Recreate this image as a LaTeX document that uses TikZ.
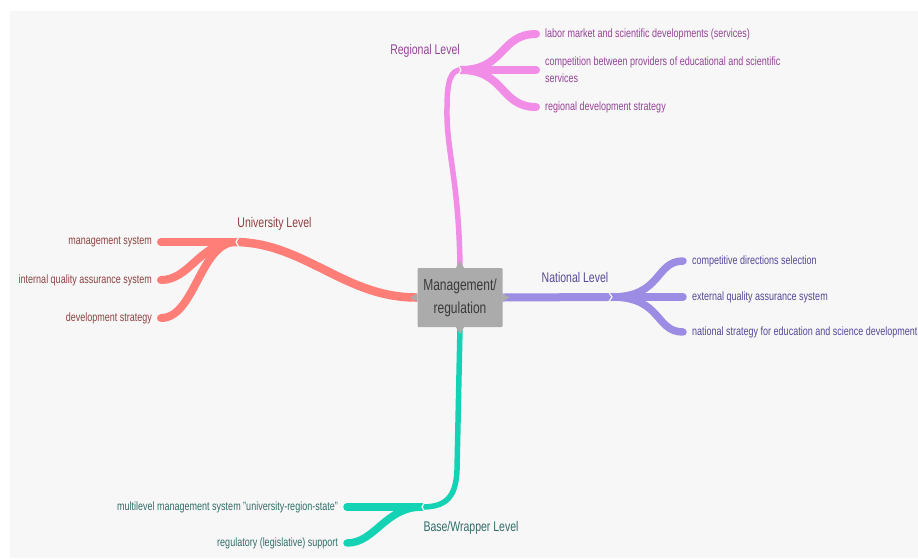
\documentclass[tikz,border=0pt]{standalone}
\usepackage{fontspec}
\setmainfont{Liberation Sans}[FakeStretch=0.75]
\usepackage{tikz}
\usetikzlibrary{positioning}
\definecolor{bg_gray}{HTML}{F7F7F7}
\definecolor{box_gray}{HTML}{ABABAB}
\definecolor{box_text}{HTML}{3A3A3A}
\definecolor{reg_branch}{HTML}{F18CE7}
\definecolor{reg_text}{HTML}{944397}
\definecolor{uni_branch}{HTML}{FF7E78}
\definecolor{uni_text}{HTML}{8E4141}
\definecolor{nat_branch}{HTML}{9C8CE3}
\definecolor{nat_text}{HTML}{54489A}
\definecolor{base_branch}{HTML}{14D3B5}
\definecolor{base_text}{HTML}{316D69}

\begin{document}
\begin{tikzpicture}[x=1pt,y=-1pt,
        leaf/.style={font=\fontsize{12}{17}\selectfont, inner sep=0pt},
        level/.style={font=\fontsize{14}{17}\selectfont, inner sep=0pt},
        notch/.style={bg_gray, line width=1.2pt}]
        % Fond
        \fill[white] (0,0) rectangle (918,558);
        \fill[bg_gray] (10,11) rectangle (918,558);
        \useasboundingbox (0,0) rectangle (918,558);

        % Noeud central
        \node[fill=box_gray, text=box_text, minimum width=85pt, minimum height=59pt, inner sep=0pt,
              align=center, rounded corners=1pt, font=\fontsize{16}{23}\selectfont] (mgmt) at (460,297.5) {Management/\\regulation};

        % Points de jonction
        \coordinate (reg) at (461,70);
        \coordinate (nat) at (612,297);
        \coordinate (uni) at (236,242);
        \coordinate (base) at (422,507);

        % Regional Level
        \draw[reg_branch, line width=5.5pt] (mgmt.north) .. controls (459,180) and (446,150) .. (447,108) .. controls (447,80) and (451,70) .. (reg);
        \foreach \y/\name/\txt in {34/r1/{labor market and scientific developments (services)}, 70/r2/{competition between providers of educational and scientific\\services}, 107/r3/{regional development strategy}} {
        \coordinate (\name) at (536,\y);
        \draw[reg_branch, line width=8pt, line cap=round] (reg) .. controls (505,70) and (500,\y) .. (\name);
        \node[leaf, reg_text, align=left, right=9pt of \name] (\name txt) {\txt};
        }
        \draw[notch] (reg) ++(-4,-7) -- (reg) -- ++(-4,7);
        \node[level, reg_text] (reglabel) at (425,51) {Regional Level};

        % National Level
        \draw[nat_branch, line width=8pt] (mgmt.east) -- (nat);
        \foreach \y/\name/\txt in {261/n1/{competitive directions selection}, 297/n2/{external quality assurance system}, 332/n3/{national strategy for education and science development}} {
        \coordinate (\name) at (683,\y);
        \draw[nat_branch, line width=7.5pt, line cap=round] (nat) .. controls (662,297) and (655,\y) .. (\name);
        \node[leaf, nat_text, right=9pt of \name] (\name txt) {\txt};
        }
        \draw[notch] (nat) ++(-4,-6) -- (nat) -- ++(-4,6);
        \node[level, nat_text] (natlabel) at (575,277) {National Level};

        % University Level
        \draw[uni_branch, line width=8.5pt] (mgmt.west) .. controls (345,298) and (305,243) .. (uni);
        \foreach \y/\name/\ctrl/\txt in {242/u1/200/{management system}, 280/u2/190/{internal quality assurance system}, 318/u3/195/{development strategy}} {
        \coordinate (\name) at (161,\y);
        \draw[uni_branch, line width=8pt, line cap=round] (uni) .. controls (200,242) and (\ctrl,\y) .. (\name);
        \node[leaf, uni_text, left=9pt of \name] (\name txt) {\txt};
        }
        \draw[notch] (uni) ++(4,-7) -- (uni) -- ++(4,7);
        \node[level, uni_text] (unilabel) at (274.5,224) {University Level};

        % Base/Wrapper Level
        \draw[base_branch, line width=5.5pt] (mgmt.south) -- (457,470) .. controls (456,498) and (445,507) .. (base);
        \foreach \y/\name/\txt in {507/b1/{multilevel management system "university-region-state"}, 543/b2/{regulatory (legislative) support}} {
        \coordinate (\name) at (347,\y);
        \draw[base_branch, line width=7.5pt, line cap=round] (base) .. controls (385,507) and (375,\y) .. (\name);
        \node[leaf, base_text, left=9pt of \name] (\name txt) {\txt};
        }
        \draw[notch] (base) ++(4,-7) -- (base) -- ++(4,7);
        \node[level, base_text] (baselabel) at (471,528) {Base/Wrapper Level};

        % Petites pointes du noeud central
        \fill[box_gray] ([xshift=-4pt]mgmt.north) -- ++(4,-7) -- ++(4,7) -- cycle;
        \fill[box_gray] ([xshift=-4pt]mgmt.south) -- ++(4,7) -- ++(4,-7) -- cycle;
        \fill[box_gray] ([yshift=-4pt]mgmt.west) -- ++(-7,-4) -- ++(7,-4) -- cycle;
        \fill[box_gray] ([yshift=-4pt]mgmt.east) -- ++(7,-4) -- ++(-7,-4) -- cycle;
    \end{tikzpicture}
\end{document}
